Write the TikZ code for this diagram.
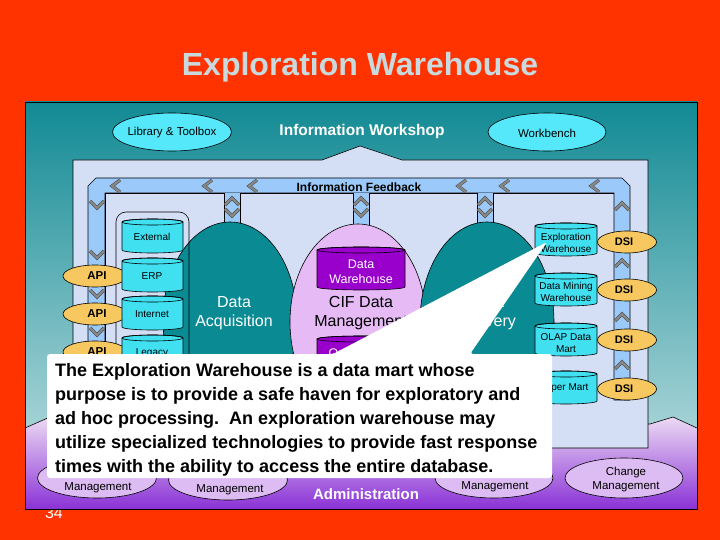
\documentclass[tikz,border=0pt]{standalone}
\usepackage{fontspec}
\setmainfont{Liberation Sans}
\usetikzlibrary{shapes.geometric}
\definecolor{bgred}{RGB}{255,51,0}
\definecolor{panelTop}{RGB}{18,138,148}
\definecolor{panelMid}{RGB}{100,176,184}
\definecolor{panelBot}{RGB}{200,228,230}
\definecolor{purpTop}{RGB}{236,218,244}
\definecolor{purpBot}{RGB}{138,50,214}
\definecolor{lightpanel}{RGB}{212,222,244}
\definecolor{band}{RGB}{155,202,250}
\definecolor{chevgray}{RGB}{135,135,135}
\definecolor{chevdark}{RGB}{70,70,70}
\definecolor{tealov}{RGB}{10,138,146}
\definecolor{lavov}{RGB}{230,186,245}
\definecolor{purpcyl}{RGB}{153,0,204}
\definecolor{cyancyl}{RGB}{64,224,240}
\definecolor{cyanov}{RGB}{85,232,250}
\definecolor{orangeov}{RGB}{248,200,96}
\definecolor{botov}{RGB}{220,188,242}
\definecolor{titlecol}{RGB}{200,218,222}
\newcommand\mycyl[5]{%
  \pgfmathsetmacro\cylrx{(#3-#1)/2}%
  \pgfmathsetmacro\cylcx{(#3+#1)/2}%
  \filldraw[fill=#5,draw=black,line width=0.6pt] (#1,#2) -- (#1,#4)
    arc[start angle=180,end angle=360,x radius=\cylrx pt,y radius=3pt] -- (#3,#2)
    arc[start angle=0,end angle=180,x radius=\cylrx pt,y radius=3pt] -- cycle;
  \draw[black,line width=0.6pt] (\cylcx,#2) ellipse[x radius=\cylrx pt,y radius=3pt];
}
\newcommand\chL[2]{\draw[chev] (#1+8,#2-6) -- (#1,#2) -- (#1+8,#2+6);}
\newcommand\chD[2]{\draw[chev] (#1-7,#2-4) -- (#1,#2+3) -- (#1+7,#2-4);}
\newcommand\chU[2]{\draw[chev] (#1-7,#2+4) -- (#1,#2-3) -- (#1+7,#2+4);}
\begin{document}
\begin{tikzpicture}[x=1pt,y=-1pt,
  oval/.style={ellipse,draw=black,line width=0.6pt,inner sep=0pt},
  chev/.style={draw=chevgray,line width=2.2pt,line join=miter,preaction={draw=chevdark,line width=3.2pt}},
  thinline/.style={draw=black,line width=0.6pt},
  small/.style={inner sep=0pt,align=center,font=\fontsize{10}{12}\selectfont},
  mid/.style={inner sep=0pt,align=center,font=\fontsize{11.5}{14}\selectfont},
  big/.style={inner sep=0pt,align=center,font=\fontsize{16}{19}\selectfont},
  boldsm/.style={inner sep=0pt,font=\bfseries\fontsize{11.5}{14}\selectfont},
  calltext/.style={inner sep=0pt,anchor=base west,font=\bfseries\fontsize{18}{22}\selectfont}]
\useasboundingbox (0,0) rectangle (720,540);
\fill[bgred] (0,0) rectangle (720,540);
\node[anchor=base,text=white,inner sep=0pt,font=\fontsize{16}{18}\selectfont] (pagenum) at (54,518) {34};
\node[anchor=base,text=titlecol,inner sep=0pt,font=\bfseries\fontsize{32}{38}\selectfont] (title) at (360,76) {Exploration Warehouse};
% main panel
\shade[top color=panelTop,middle color=panelMid,bottom color=panelBot] (25,102) rectangle (697,509);
\shade[top color=purpTop,bottom color=purpBot] (25,428) -- (50,417) -- (650,424) -- (673,417) -- (697,428) -- (697,509) -- (25,509) -- cycle;
\draw[thinline] (25,428) -- (50,417) -- (650,424) -- (673,417) -- (697,428);
\draw[thinline] (25,102) rectangle (697,509);
% information workshop panel
\filldraw[fill=lightpanel,thinline] (73,160) -- (322,160) -- (360,146) -- (402,160) -- (648,160) -- (648,448) -- (73,448) -- cycle;
% feedback band
\filldraw[fill=band,thinline] (88,400) -- (88,186) -- (96,178) -- (622,178) -- (630,186) -- (630,400) -- (614,400) -- (614,193) -- (105,193) -- (105,400) -- cycle;
\fill[band] (224,193.3) rectangle (240,236);
\fill[band] (353,193.3) rectangle (369,236);
\fill[band] (477,193.3) rectangle (493,236);
\draw[thinline] (105,448) -- (105,193) -- (224,193) -- (224,448);
\draw[thinline] (240,448) -- (240,193) -- (353,193) -- (353,448);
\draw[thinline] (369,448) -- (369,193) -- (477,193) -- (477,448);
\draw[thinline] (493,448) -- (493,193) -- (614,193);
\node[anchor=base,inner sep=0pt,font=\bfseries\fontsize{12}{14}\selectfont] (feedback) at (359,192) {Information Feedback};
% chevrons
\chL{112}{186}\chL{204}{186}\chL{249}{186}\chL{458}{186}\chL{501}{186}\chL{591}{186}
\chD{97}{205}\chD{97}{255}\chD{97}{294}\chD{97}{332}
\chU{622}{206}\chU{622}{263}\chU{622}{317}\chU{622}{365}
\chU{232}{201}\chD{232}{213}
\chU{361}{201}\chD{361}{213}
\chU{485}{201}\chD{485}{213}
% big ovals
\node[oval,fill=tealov,minimum width=134pt,minimum height=196pt] (acqov) at (230,320) {};
\node[oval,fill=lavov,minimum width=136pt,minimum height=196pt] (cifov) at (358,322) {};
\node[oval,fill=tealov,minimum width=134pt,minimum height=200pt] (delov) at (487,322) {};
\node[big,text=white] (acqtxt) at (234,313) {Data\\Acquisition};
\node[big,text=black] (ciftxt) at (361,313) {CIF Data\\Management};
\node[big,text=white] (deltxt) at (487,313) {Data\\Delivery};
\mycyl{317}{250}{405}{287}{purpcyl}
\node[inner sep=0pt,align=center,text=white,font=\fontsize{12.5}{15}\selectfont] (dwtxt) at (361,272) {Data\\Warehouse};
\mycyl{317}{339}{405}{380}{purpcyl}
\node[anchor=base,inner sep=0pt,text=white,font=\fontsize{12.5}{15}\selectfont] (odstxt) at (361,357) {Operational};
% left sources
\draw[thinline,rounded corners=10pt] (116,420) -- (116,212) -- (189,212) -- (189,420);
\node[oval,fill=orangeov,minimum width=64pt,minimum height=22pt] (api1) at (95,276) {};
\node[oval,fill=orangeov,minimum width=64pt,minimum height=22pt] (api2) at (95,314) {};
\node[oval,fill=orangeov,minimum width=64pt,minimum height=22pt] (api3) at (95,352) {};
\node[boldsm] (api1t) at (97,276) {API};
\node[boldsm] (api2t) at (97,314) {API};
\node[boldsm] (api3t) at (97,352) {API};
\mycyl{122}{222}{183}{250}{cyancyl}
\mycyl{122}{261}{183}{289}{cyancyl}
\mycyl{122}{299}{183}{327}{cyancyl}
\mycyl{122}{338}{183}{366}{cyancyl}
\node[small] (ext) at (152,237) {External};
\node[small] (erp) at (152,276) {ERP};
\node[small] (inet) at (152,314) {Internet};
\node[small] (leg) at (152,353) {Legacy};
% right marts
\node[oval,fill=orangeov,minimum width=59pt,minimum height=22pt] (dsi1) at (627,242) {};
\node[oval,fill=orangeov,minimum width=59pt,minimum height=22pt] (dsi2) at (627,290) {};
\node[oval,fill=orangeov,minimum width=59pt,minimum height=22pt] (dsi3) at (627,340) {};
\node[oval,fill=orangeov,minimum width=59pt,minimum height=22pt] (dsi4) at (627,389) {};
\node[boldsm,font=\bfseries\fontsize{11}{13}\selectfont] (dsi1t) at (624,242) {DSI};
\node[boldsm,font=\bfseries\fontsize{11}{13}\selectfont] (dsi2t) at (624,290) {DSI};
\node[boldsm,font=\bfseries\fontsize{11}{13}\selectfont] (dsi3t) at (624,340) {DSI};
\node[boldsm,font=\bfseries\fontsize{11}{13}\selectfont] (dsi4t) at (624,389) {DSI};
\mycyl{535}{226}{597}{253}{cyancyl}
\mycyl{535}{276}{597}{303}{cyancyl}
\mycyl{535}{326}{597}{353}{cyancyl}
\mycyl{535}{374}{597}{401}{cyancyl}
\node[small] (expw) at (566,243) {Exploration\\Warehouse};
\node[small] (dmw) at (566,292) {Data Mining\\Warehouse};
\node[small] (olap) at (566,343) {OLAP Data\\Mart};
\node[small] (oper) at (566,388) {Oper Mart};
% top ovals
\node[oval,fill=cyanov,minimum width=119pt,minimum height=38pt] (lib) at (172,132) {};
\node[mid] (libt) at (172,133) {Library \& Toolbox};
\node[oval,fill=cyanov,minimum width=118pt,minimum height=38pt] (wb) at (547,132) {};
\node[mid] (wbt) at (547,133) {Workbench};
\node[inner sep=0pt,text=white,font=\bfseries\fontsize{15.5}{18}\selectfont] (iw) at (362,131) {Information Workshop};
% bottom ovals
\node[oval,fill=botov,minimum width=119pt,minimum height=40pt] (m1) at (97,478) {};
\node[oval,fill=botov,minimum width=119pt,minimum height=40pt] (m2) at (228,480) {};
\node[oval,fill=botov,minimum width=118pt,minimum height=40pt] (m3) at (494,478) {};
\node[oval,fill=botov,minimum width=118pt,minimum height=40pt] (m4) at (624,478) {};
\node[mid] (m1t) at (98,488) {Management};
\node[mid] (m2t) at (230,490) {Management};
\node[mid] (m3t) at (495,487) {Management};
\node[mid] (m4t) at (626,480) {Change\\Management};
\node[inner sep=0pt,text=white,font=\bfseries\fontsize{15}{18}\selectfont] (opadm) at (366,494) {Administration};
% callout
\fill[white,rounded corners=3pt] (47,354) -- (333,354) -- (547,242) -- (470,354) -- (552,354) -- (552,478) -- (47,478) -- cycle;
\node[calltext] (c1) at (55,376) {The Exploration Warehouse is a data mart whose};
\node[calltext] (c2) at (55,400) {purpose is to provide a safe haven for exploratory and};
\node[calltext] (c3) at (55,424) {ad hoc processing.\ \ An exploration warehouse may};
\node[calltext] (c4) at (55,448) {utilize specialized technologies to provide fast response};
\node[calltext] (c5) at (55,472) {times with the ability to access the entire database.};
\end{tikzpicture}
\end{document}
